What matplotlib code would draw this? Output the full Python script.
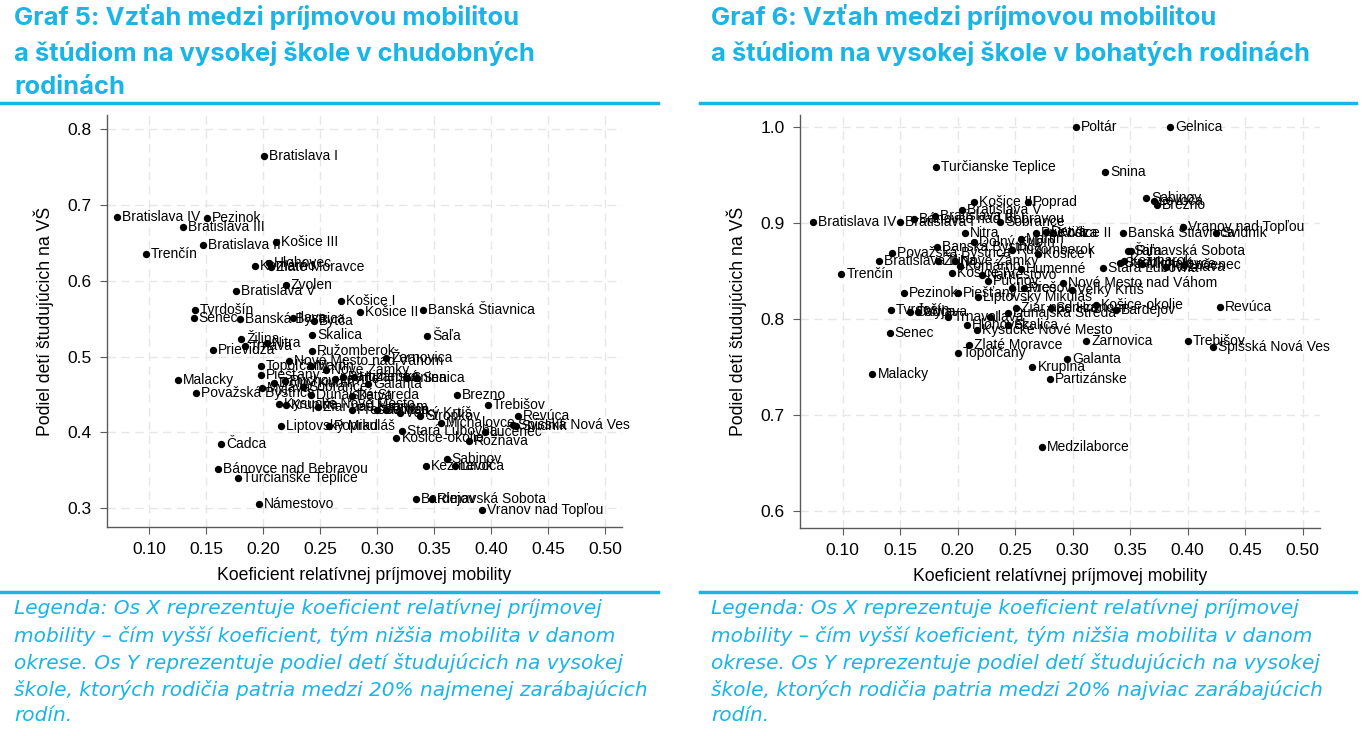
import matplotlib
matplotlib.use("Agg")
import matplotlib.pyplot as plt
from matplotlib.lines import Line2D

# Graf 5 - chudobne rodiny (x = koeficient mobility, y = podiel studujucich na VS)
poor_names = [
    "Bratislava I", "Bratislava IV", "Pezinok", "Bratislava III", "Bratislava II",
    "Košice III", "Trenčín", "Komárno", "Hlohovec", "Zlaté Moravce", "Zvolen",
    "Bratislava V", "Košice I", "Košice II", "Banská Štiavnica", "Tvrdošín", "Senec",
    "Banská Bystrica", "Ilava", "Bytča", "Šaľa", "Skalica", "Žilina", "Nitra",
    "Trnava", "Prievidza", "Ružomberok", "Žarnovica", "Topoľčany",
    "Nové Mesto nad Váhom", "Martin", "Nové Zámky", "Piešťany", "Myjava",
    "Dolný Kubín", "Púchov", "Sobrance", "Dunajská Streda", "Levice", "Partizánske",
    "Humenné", "Galanta", "Snina", "Senica", "Detva", "Kysucké Nové Mesto", "Krupina",
    "Žiar nad Hronom", "Prešov", "Gelnica", "Poltár", "Veľký Krtíš", "Stropkov",
    "Liptovský Mikuláš", "Poprad", "Stará Ľubovňa", "Košice-okolie", "Michalovce",
    "Brezno", "Trebišov", "Revúca", "Spišská Nová Ves", "Svidník", "Lučenec",
    "Rožňava", "Kežmarok", "Sabinov", "Levoča", "Malacky", "Považská Bystrica",
    "Čadca", "Bánovce nad Bebravou", "Turčianske Teplice", "Námestovo", "Bardejov",
    "Rimavská Sobota", "Vranov nad Topľou",
]
poor_x = [
    0.201, 0.072, 0.151, 0.130, 0.147, 0.211, 0.097, 0.193, 0.205, 0.207, 0.220,
    0.176, 0.268, 0.285, 0.340, 0.140, 0.139, 0.180, 0.226, 0.245, 0.344, 0.243,
    0.181, 0.203, 0.184, 0.156, 0.243, 0.308, 0.198, 0.223, 0.242, 0.255, 0.198,
    0.199, 0.210, 0.219, 0.235, 0.242, 0.263, 0.270, 0.280, 0.292, 0.326, 0.335,
    0.278, 0.214, 0.220, 0.248, 0.278, 0.300, 0.308, 0.320, 0.338, 0.216, 0.258,
    0.322, 0.317, 0.356, 0.370, 0.397, 0.424, 0.419, 0.422, 0.395, 0.381, 0.343,
    0.361, 0.368, 0.125, 0.141, 0.163, 0.160, 0.178, 0.196, 0.334, 0.348, 0.392,
]
poor_y = [
    0.765, 0.684, 0.683, 0.671, 0.647, 0.651, 0.635, 0.620, 0.623, 0.618, 0.595,
    0.586, 0.574, 0.559, 0.561, 0.562, 0.551, 0.549, 0.551, 0.547, 0.527, 0.529,
    0.523, 0.518, 0.514, 0.509, 0.507, 0.498, 0.488, 0.494, 0.488, 0.482, 0.476,
    0.458, 0.465, 0.468, 0.460, 0.449, 0.470, 0.473, 0.473, 0.464, 0.472, 0.472,
    0.448, 0.437, 0.436, 0.433, 0.430, 0.429, 0.430, 0.426, 0.421, 0.409, 0.409,
    0.402, 0.393, 0.412, 0.449, 0.436, 0.421, 0.410, 0.408, 0.401, 0.389, 0.355,
    0.365, 0.355, 0.469, 0.452, 0.385, 0.352, 0.340, 0.305, 0.312, 0.312, 0.297,
]

# Graf 6 - bohate rodiny
rich_names = [
    "Poltár", "Gelnica", "Turčianske Teplice", "Snina", "Sabinov", "Levoča", "Brezno",
    "Vranov nad Topľou", "Svidník", "Banská Štiavnica", "Šaľa", "Rimavská Sobota",
    "Kežmarok", "Stropkov", "Rožňava", "Lučenec", "Michalovce", "Stará Ľubovňa",
    "Revúca", "Košice-okolie", "Bardejov", "Trebišov", "Spišská Nová Ves", "Žarnovica",
    "Galanta", "Krupina", "Partizánske", "Medzilaborce", "Malacky", "Topoľčany",
    "Zlaté Moravce", "Senec", "Tvrdošín", "Kysucké Nové Mesto", "Hlohovec", "Skalica",
    "Ilava", "Čadca", "Myjava", "Trnava", "Dunajská Streda", "Žiar nad Hronom",
    "Senica", "Liptovský Mikuláš", "Piešťany", "Pezinok", "Veľký Krtíš", "Levice",
    "Prešov", "Púchov", "Nové Mesto nad Váhom", "Košice IV", "Humenné", "Nitra",
    "Dolný Kubín", "Banská Bystrica", "Považská Bystrica", "Bratislava II", "Trenčín",
    "Bratislava IV", "Bratislava I", "Bánovce nad Bebravou", "Bratislava III",
    "Bratislava V", "Košice III", "Poprad", "Sobrance", "Ružomberok", "Martin",
    "Košice I", "Prievidza", "Detva", "Košice II", "Žilina", "Nové Zámky", "Komárno",
    "Námestovo",
]
rich_x = [
    0.303, 0.385, 0.181, 0.328, 0.364, 0.371, 0.373, 0.396, 0.425, 0.344, 0.348,
    0.351, 0.345, 0.341, 0.381, 0.397, 0.360, 0.326, 0.428, 0.320, 0.338, 0.400,
    0.422, 0.312, 0.295, 0.265, 0.280, 0.273, 0.126, 0.200, 0.210, 0.141, 0.142,
    0.217, 0.208, 0.244, 0.228, 0.159, 0.166, 0.192, 0.244, 0.251, 0.281, 0.218,
    0.200, 0.153, 0.299, 0.247, 0.258, 0.226, 0.292, 0.195, 0.255, 0.206, 0.214,
    0.182, 0.143, 0.132, 0.099, 0.074, 0.150, 0.162, 0.180, 0.204, 0.214, 0.261,
    0.237, 0.247, 0.255, 0.270, 0.268, 0.277, 0.283, 0.183, 0.198, 0.202, 0.221,
]
rich_y = [
    1.000, 1.000, 0.959, 0.953, 0.926, 0.923, 0.919, 0.896, 0.890, 0.890, 0.871,
    0.871, 0.861, 0.859, 0.854, 0.856, 0.858, 0.853, 0.813, 0.815, 0.810, 0.777,
    0.771, 0.777, 0.758, 0.750, 0.737, 0.667, 0.743, 0.765, 0.773, 0.786, 0.810,
    0.789, 0.794, 0.794, 0.802, 0.807, 0.807, 0.802, 0.806, 0.812, 0.812, 0.823,
    0.827, 0.827, 0.830, 0.832, 0.832, 0.840, 0.838, 0.848, 0.852, 0.890, 0.880,
    0.875, 0.869, 0.861, 0.847, 0.901, 0.901, 0.904, 0.908, 0.914, 0.922, 0.922,
    0.901, 0.872, 0.884, 0.868, 0.890, 0.891, 0.890, 0.861, 0.861, 0.855, 0.846,
]

x_ticks = [0.10, 0.15, 0.20, 0.25, 0.30, 0.35, 0.40, 0.45, 0.50]
poor_yticks = [0.3, 0.4, 0.5, 0.6, 0.7, 0.8]
rich_yticks = [0.6, 0.7, 0.8, 0.9, 1.0]

titles = [
    "Graf 5: Vzťah medzi príjmovou mobilitou\na štúdiom na vysokej škole v chudobných\nrodinách",
    "Graf 6: Vzťah medzi príjmovou mobilitou\na štúdiom na vysokej škole v bohatých rodinách",
]
notes = [
    "Legenda: Os X reprezentuje koeficient relatívnej príjmovej\n"
    "mobility – čím vyšší koeficient, tým nižšia mobilita v danom\n"
    "okrese. Os Y reprezentuje podiel detí študujúcich na vysokej\n"
    "škole, ktorých rodičia patria medzi 20% najmenej zarábajúcich\n"
    "rodín.",
    "Legenda: Os X reprezentuje koeficient relatívnej príjmovej\n"
    "mobility – čím vyšší koeficient, tým nižšia mobilita v danom\n"
    "okrese. Os Y reprezentuje podiel detí študujúcich na vysokej\n"
    "škole, ktorých rodičia patria medzi 20% najviac zarábajúcich\n"
    "rodín.",
]

BLUE = "#1ab4e6"
W, H = 1368, 736

fig = plt.figure(figsize=(W / 100, H / 100), dpi=100)
plt.rcParams["font.family"] = ["Liberation Sans", "DejaVu Sans"]


def px_box(x0, x1, ytop, ybot):
    return [x0 / W, 1 - ybot / H, (x1 - x0) / W, (ybot - ytop) / H]


def draw_panel(ax, xs, ys, names, yticks, ylim):
    ax.scatter(xs, ys, s=28, color="black", zorder=3, linewidths=0)
    for x, y, n in zip(xs, ys, names):
        ax.annotate(n, (x, y), xytext=(5, 0), textcoords="offset pixels",
                    ha="left", va="center", fontsize=10, color="black", zorder=4)
    ax.set_xlim(0.063, 0.515)
    ax.set_ylim(*ylim)
    ax.set_xticks(x_ticks)
    ax.set_xticklabels([f"{t:.2f}" for t in x_ticks])
    ax.set_yticks(yticks)
    ax.set_yticklabels([f"{t:.1f}" for t in yticks])
    ax.grid(True, color="#e6e6e6", linestyle=(0, (6, 4)), linewidth=1)
    ax.set_axisbelow(True)
    for s in ["top", "right"]:
        ax.spines[s].set_visible(False)
    for s in ["left", "bottom"]:
        ax.spines[s].set_color("#5a5a5a")
        ax.spines[s].set_linewidth(1)
    ax.tick_params(direction="out", length=5, color="#5a5a5a", labelsize=12.5, pad=6)
    ax.set_xlabel("Koeficient relatívnej príjmovej mobility", fontsize=12.7, labelpad=7)
    ax.set_ylabel("Podiel detí študujúcich na VŠ", fontsize=12.7, labelpad=10)


ax1 = fig.add_axes(px_box(107, 622, 115, 527))
draw_panel(ax1, poor_x, poor_y, poor_names, poor_yticks, (0.275, 0.819))

ax2 = fig.add_axes(px_box(800, 1320, 115, 528))
draw_panel(ax2, rich_x, rich_y, rich_names, rich_yticks, (0.582, 1.013))

# titles, rules and notes
for x0, x1, title, note in [(0, 658, titles[0], notes[0]), (700, 1356, titles[1], notes[1])]:
    tx = (x0 + 14 if x0 == 0 else x0 + 11) / W
    fig.text(tx, 1 - 4 / H, title, ha="left", va="top",
             fontsize=18.4, fontweight="bold", color=BLUE, family="Inter", linespacing=1.54)
    fig.add_artist(Line2D([x0 / W, x1 / W], [1 - 103 / H, 1 - 103 / H], color=BLUE, lw=2.5))
    fig.add_artist(Line2D([x0 / W, x1 / W], [1 - 592 / H, 1 - 592 / H], color=BLUE, lw=2.5))
    fig.text(tx, 1 - 599 / H, note, ha="left", va="top",
             fontsize=14.5, style="italic", color=BLUE, family="DejaVu Sans", linespacing=1.44)

fig.savefig("out.png", dpi=100)
